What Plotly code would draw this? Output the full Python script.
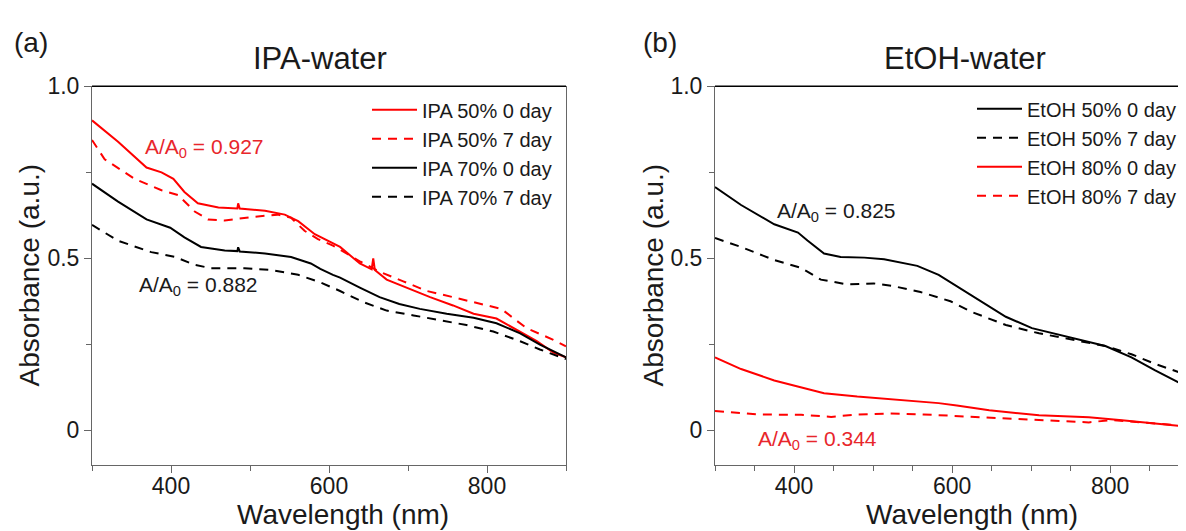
import plotly.graph_objects as go

# ---------------- data ----------------
# (a) IPA-water
ipa50_0_wl = [300, 333, 369, 388, 403, 417, 434, 460, 484, 485, 487, 519, 544, 561, 582, 605, 614,
              639, 654, 656, 658, 673, 698, 728, 757, 783, 812, 842, 863, 884, 900]
ipa50_0_ab = [0.901, 0.839, 0.764, 0.750, 0.731, 0.693, 0.660, 0.648, 0.645, 0.660, 0.645, 0.638,
              0.627, 0.608, 0.570, 0.542, 0.533, 0.485, 0.468, 0.500, 0.466, 0.438, 0.415, 0.387,
              0.363, 0.339, 0.325, 0.287, 0.259, 0.226, 0.212]

ipa50_7_wl = [300, 316, 354, 388, 409, 430, 447, 468, 502, 535, 552, 569, 586, 605, 640, 665, 694,
              724, 757, 791, 818, 850, 884, 900]
ipa50_7_ab = [0.844, 0.788, 0.731, 0.698, 0.684, 0.636, 0.613, 0.610, 0.620, 0.627, 0.618, 0.580,
              0.556, 0.537, 0.490, 0.460, 0.433, 0.405, 0.387, 0.367, 0.353, 0.297, 0.263, 0.244]

ipa70_0_wl = [300, 333, 369, 399, 417, 438, 468, 484, 485, 487, 519, 552, 577, 589, 605, 614, 639,
              664, 689, 715, 749, 783, 812, 842, 867, 900]
ipa70_0_ab = [0.717, 0.665, 0.613, 0.589, 0.561, 0.533, 0.523, 0.521, 0.532, 0.520, 0.514, 0.504,
              0.485, 0.469, 0.452, 0.444, 0.415, 0.387, 0.367, 0.353, 0.339, 0.327, 0.311, 0.282,
              0.249, 0.212]

ipa70_7_wl = [300, 333, 375, 405, 430, 451, 493, 527, 561, 589, 605, 614, 643, 673, 707, 741, 774,
              808, 842, 867, 900]
ipa70_7_ab = [0.597, 0.551, 0.518, 0.504, 0.481, 0.471, 0.471, 0.466, 0.452, 0.430, 0.414, 0.405,
              0.373, 0.348, 0.334, 0.320, 0.306, 0.287, 0.259, 0.235, 0.207]

# (b) EtOH-water
et50_0_wl = [300, 333, 375, 392, 405, 417, 438, 459, 489, 514, 556, 583, 606, 625, 668, 701, 752,
             794, 827, 857, 893, 900]
et50_0_ab = [0.707, 0.655, 0.599, 0.586, 0.575, 0.552, 0.514, 0.504, 0.502, 0.497, 0.478, 0.452,
             0.419, 0.391, 0.330, 0.297, 0.268, 0.245, 0.212, 0.174, 0.132, 0.124]

et50_7_wl = [300, 333, 375, 409, 434, 468, 501, 526, 560, 598, 625, 668, 710, 752, 794, 827, 857,
             893, 900]
et50_7_ab = [0.559, 0.533, 0.495, 0.472, 0.438, 0.424, 0.427, 0.419, 0.402, 0.375, 0.344, 0.306,
             0.282, 0.263, 0.245, 0.221, 0.193, 0.164, 0.158]

et80_0_wl = [300, 333, 375, 409, 438, 480, 522, 564, 583, 606, 647, 710, 773, 815, 857, 893, 900]
et80_0_ab = [0.212, 0.178, 0.145, 0.126, 0.108, 0.098, 0.091, 0.084, 0.079, 0.072, 0.058, 0.044,
             0.038, 0.029, 0.020, 0.011, 0.010]

et80_7_wl = [300, 354, 409, 447, 480, 522, 564, 606, 647, 710, 773, 802, 836, 893, 900]
et80_7_ab = [0.056, 0.046, 0.045, 0.039, 0.046, 0.049, 0.046, 0.041, 0.037, 0.029, 0.023, 0.030,
             0.023, 0.013, 0.012]

y_tickvals = [0, 0.5, 1.0]
y_ticktext = ["0", "0.5", "1.0"]
x_tickvals = [400, 600, 800]

# ---------------- styling ----------------
# the page body has an 8px margin, so the figure is drawn 8px in from the window corner
OFF = 8
W, H = 1186 - OFF, 531 - OFF
FONT = "Arial, 'Liberation Sans', sans-serif"
RED = "#ff0000"
TXT_RED = "#e8262b"
BLACK = "#000000"
DASH = "9px,7px"
LW = 2


def px(xs):
    """screen x pixel -> paper fraction"""
    return (xs - OFF) / W


def py(ys):
    """screen y pixel -> paper fraction"""
    return (H - (ys - OFF)) / H


fig = go.Figure()

left = [
    ("IPA 50% 0 day", ipa50_0_wl, ipa50_0_ab, RED, "solid"),
    ("IPA 50% 7 day", ipa50_7_wl, ipa50_7_ab, RED, DASH),
    ("IPA 70% 0 day", ipa70_0_wl, ipa70_0_ab, BLACK, "solid"),
    ("IPA 70% 7 day", ipa70_7_wl, ipa70_7_ab, BLACK, DASH),
]
right = [
    ("EtOH 50% 0 day", et50_0_wl, et50_0_ab, BLACK, "solid"),
    ("EtOH 50% 7 day", et50_7_wl, et50_7_ab, BLACK, DASH),
    ("EtOH 80% 0 day", et80_0_wl, et80_0_ab, RED, "solid"),
    ("EtOH 80% 7 day", et80_7_wl, et80_7_ab, RED, DASH),
]
for name, xs, ys, c, d in left:
    fig.add_trace(go.Scatter(x=xs, y=ys, mode="lines", name=name, xaxis="x", yaxis="y",
                             legend="legend", line=dict(color=c, width=LW, dash=d)))
for name, xs, ys, c, d in right:
    fig.add_trace(go.Scatter(x=xs, y=ys, mode="lines", name=name, xaxis="x2", yaxis="y2",
                             legend="legend2", line=dict(color=c, width=LW, dash=d)))

AX = "#666666"
TICKFONT = dict(family=FONT, size=23, color="#1a1a1a")
ydom = [py(463), py(75)]


def xax(dom, rng, minor_dt):
    return dict(domain=dom, range=rng, tickvals=x_tickvals, ticks="outside", ticklen=7,
                tickcolor=AX, showline=True, linecolor=AX, linewidth=1, showgrid=False,
                zeroline=False, tickfont=TICKFONT, ticklabelstandoff=-6,
                minor=dict(dtick=minor_dt, tick0=300, ticks="outside", ticklen=5, tickcolor=AX,
                           showgrid=False))


def yax(anchor, mirror):
    return dict(domain=ydom, range=[-0.1, 1.0], anchor=anchor, tickvals=y_tickvals,
                ticktext=y_ticktext, ticks="outside", ticklen=7, tickcolor=AX, showline=True,
                linecolor=AX, linewidth=1, mirror=mirror, showgrid=False, zeroline=False,
                tickfont=TICKFONT,
                minor=dict(dtick=0.25, tick0=0, ticks="outside", ticklen=5, tickcolor=AX,
                           showgrid=False))


xa1 = xax([px(92), px(566)], [300, 900], 100)
xa1["anchor"] = "y"
xa2 = xax([px(715), 1.0], [300, 896], 50)
xa2["anchor"] = "y2"

legend_common = dict(font=dict(family=FONT, size=20, color="#1a1a1a"), bgcolor="rgba(0,0,0,0)",
                     borderwidth=0, xanchor="left", yanchor="top", itemwidth=45,
                     tracegroupgap=0)

fig.update_layout(
    width=W, height=H,
    margin=dict(l=0, r=0, t=0, b=0),
    paper_bgcolor="white", plot_bgcolor="white",
    font=dict(family=FONT, color="#1a1a1a"),
    xaxis=xa1, yaxis=yax("x", True),
    xaxis2=xa2, yaxis2=yax("x2", False),
    legend=dict(x=px(367), y=py(79), **legend_common),
    legend2=dict(x=px(972), y=py(78), **legend_common),
    showlegend=True,
)

# black top borders
for xr, yr in (("x domain", "y domain"), ("x2 domain", "y2 domain")):
    fig.add_shape(type="line", xref=xr, yref=yr, x0=0, x1=1, y0=1, y1=1,
                  line=dict(color="black", width=1.5))

ann = []


def text(xs, ys, s, size, color="#1a1a1a", xanchor="center", angle=0):
    ann.append(dict(x=px(xs), y=py(ys), xref="paper", yref="paper", text=s, showarrow=False,
                    xanchor=xanchor, yanchor="middle", textangle=angle,
                    font=dict(family=FONT, size=size, color=color)))


text(31, 30, "(a)", 28)
text(660, 30, "(b)", 28)
text(320, 46, "IPA-water", 31)
text(965, 46, "EtOH-water", 31)
text(343, 514, "Wavelength (nm)", 28)
text(972, 514, "Wavelength (nm)", 28)
text(30, 269, "Absorbance (a.u.)", 28, angle=-90)
text(654, 269, "Absorbance (a.u.)", 28, angle=-90)
text(143, 138, "A/A<sub>0</sub> = 0.927", 21, TXT_RED, "left")
text(137, 280, "A/A<sub>0</sub> = 0.882", 21, "#1a1a1a", "left")
text(775, 204, "A/A<sub>0</sub> = 0.825", 21, "#1a1a1a", "left")
text(756, 438, "A/A<sub>0</sub> = 0.344", 21, TXT_RED, "left")
fig.update_layout(annotations=ann)

fig.write_html("out.html")
